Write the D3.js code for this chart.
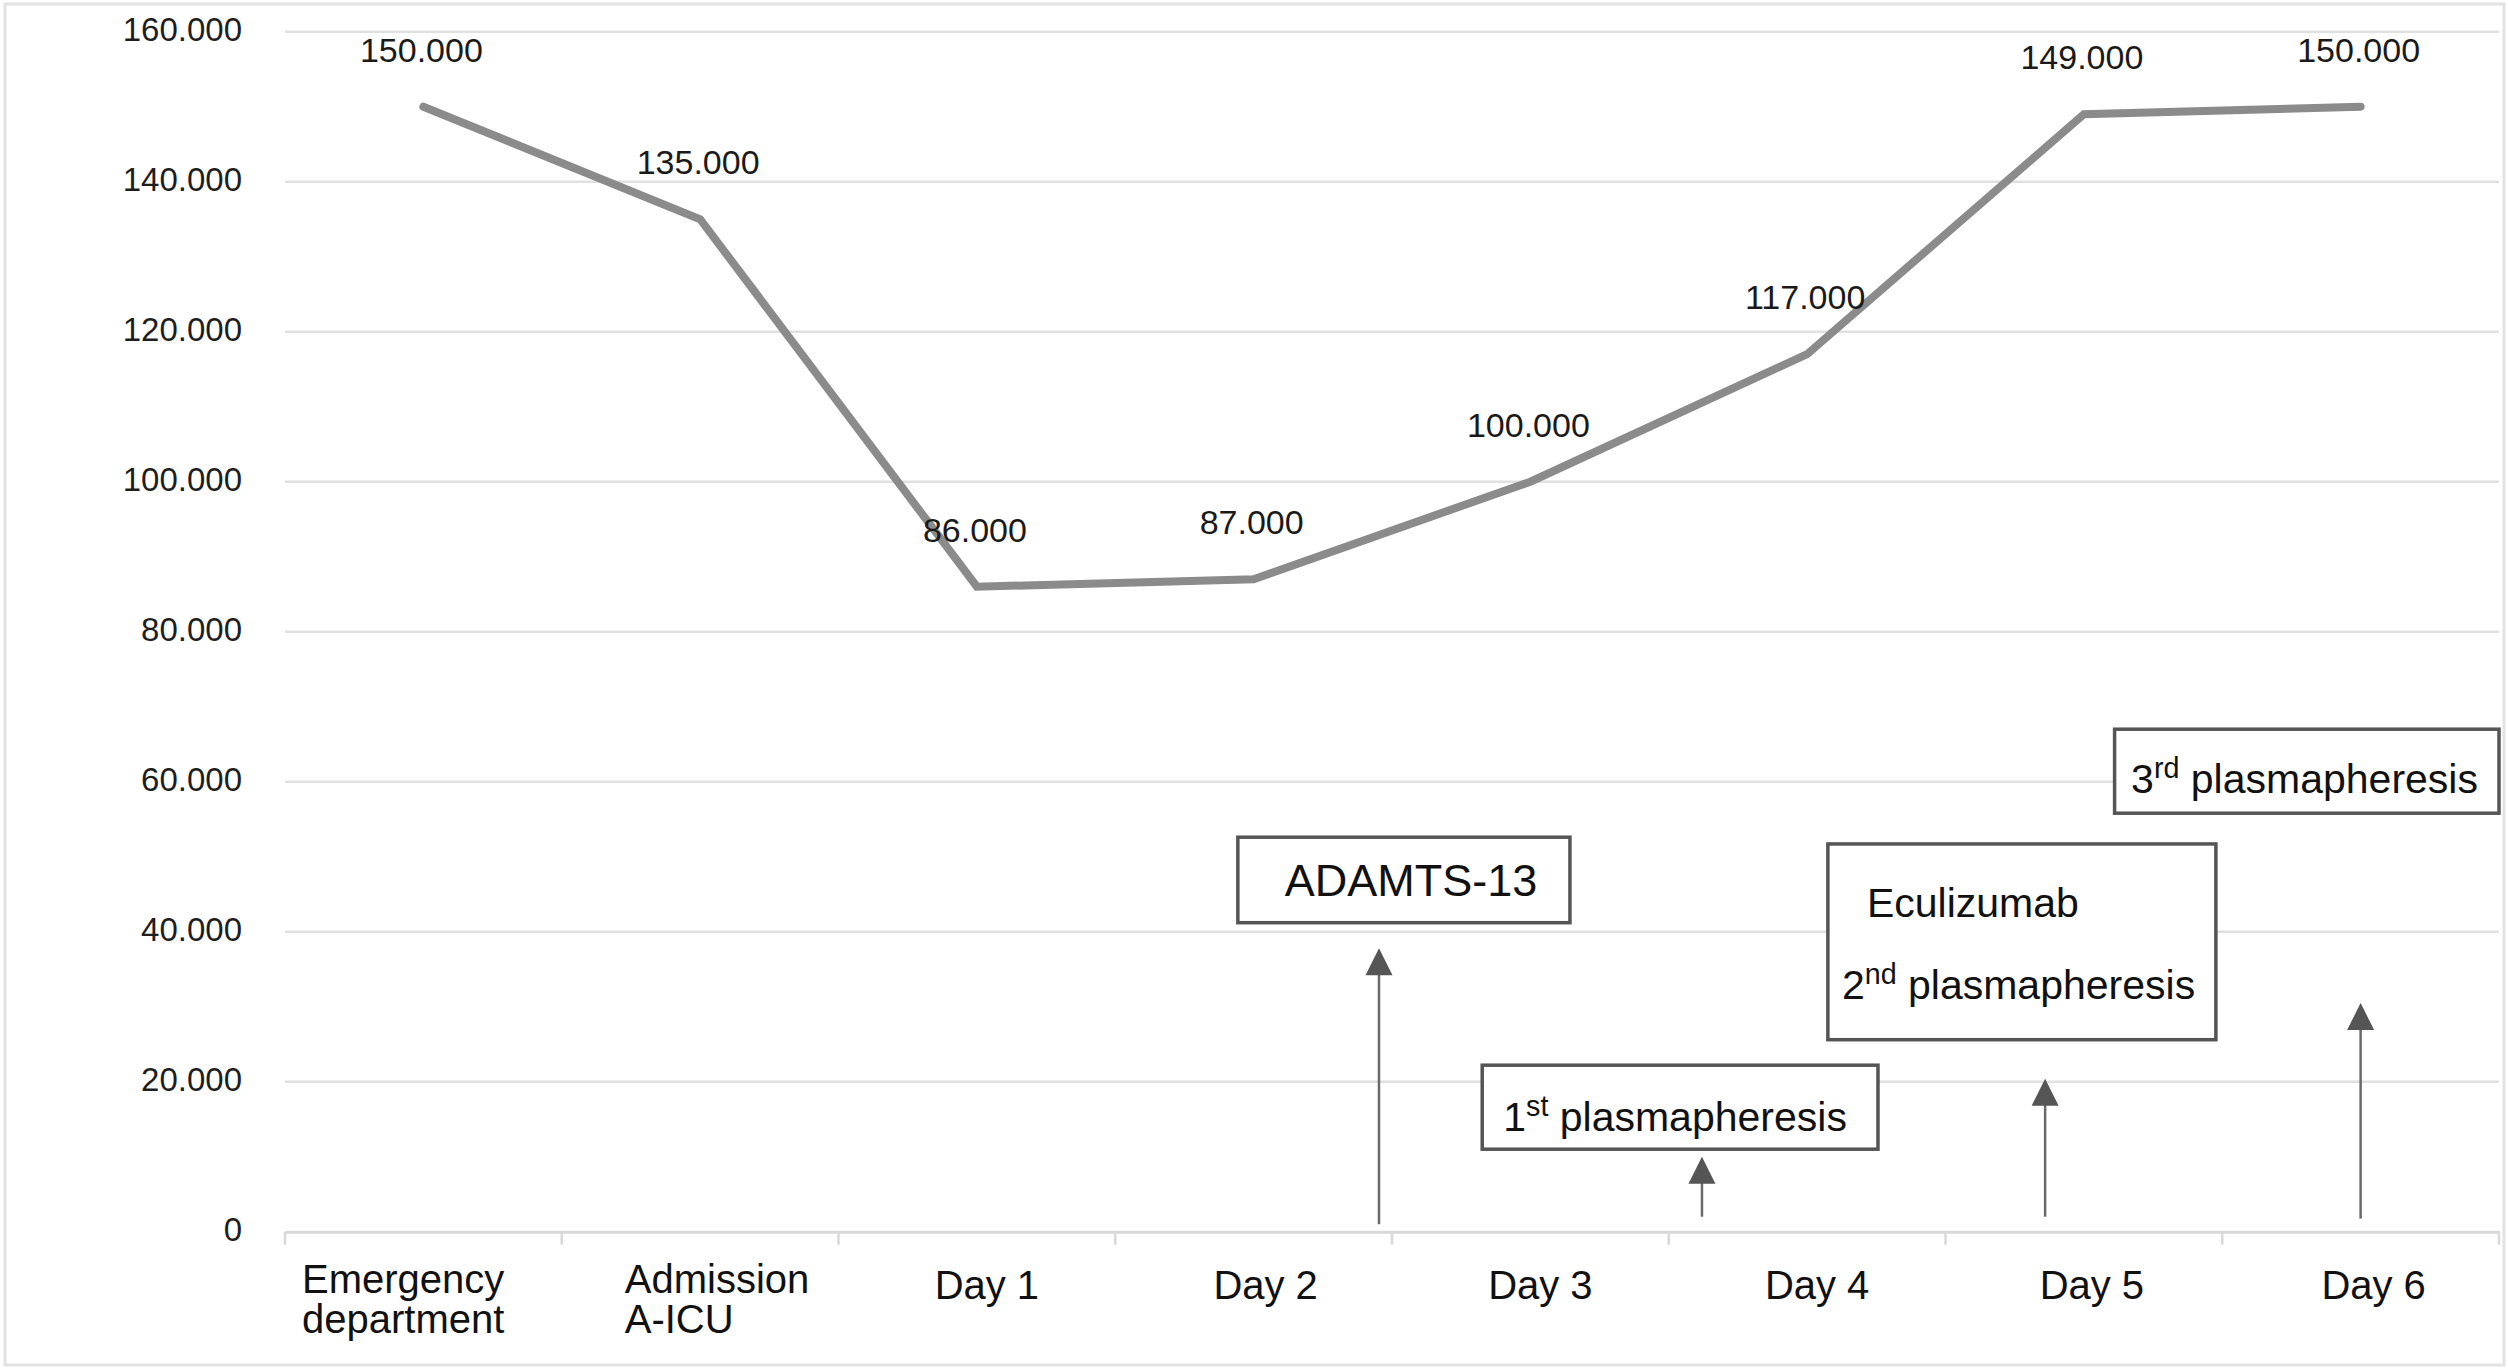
<!DOCTYPE html>
<html>
<head>
<meta charset="utf-8">
<script src="https://cdn.jsdelivr.net/npm/d3@7"></script>
<style>
  html, body { margin: 0; padding: 0; background: #fff; }
  svg { display: block; font-family: "Liberation Sans", Arial, Helvetica, sans-serif; }
</style>
</head>
<body>
<svg id="chart" width="2508" height="1372"></svg>
<script>
// ---------- data ----------
const categories = [
  ["Emergency", "department"],
  ["Admission", "A-ICU"],
  ["Day 1"], ["Day 2"], ["Day 3"], ["Day 4"], ["Day 5"], ["Day 6"]
];
const plateletValues = [150000, 135000, 86000, 87000, 100000, 117000, 149000, 150000];
const valueLabels = ["150.000", "135.000", "86.000", "87.000", "100.000", "117.000", "149.000", "150.000"];
const yTickValues = [0, 20000, 40000, 60000, 80000, 100000, 120000, 140000, 160000];
const yTickLabels = ["0", "20.000", "40.000", "60.000", "80.000", "100.000", "120.000", "140.000", "160.000"];

// annotation events (position along the category index, and value of arrow tip / base)
const arrowIndex = [3.453, 4.62, 5.86, 7.0];
const arrowTipValue = [37800, 10000, 20400, 30500];
const arrowBaseValue = [1000, 2000, 2000, 1750];

// annotation boxes: index range, value range
const boxIndexFrom = [2.943, 3.826, 5.075, 6.111];
const boxIndexTo = [4.143, 5.256, 6.477, 7.5];
const boxValueTop = [52600, 22200, 51700, 67000];
const boxValueBottom = [41200, 11000, 25600, 55800];
// box texts: [main, superscript, rest]
const boxTexts = [
  [["ADAMTS-13", "", ""]],
  [["1", "st", " plasmapheresis"]],
  [["Eculizumab", "", ""], ["2", "nd", " plasmapheresis"]],
  [["3", "rd", " plasmapheresis"]]
];

// ---------- layout ----------
const W = 2508, H = 1372;
const plotLeft = 285, plotRight = 2499, plotTop = 31.7, plotBottom = 1231.7;
const svg = d3.select("#chart");

// outer frame
svg.append("rect")
  .attr("x", 5).attr("y", 4).attr("width", 2499).attr("height", 1361)
  .attr("fill", "none").attr("stroke", "#e2e2e2").attr("stroke-width", 3);

const catKeys = categories.map(c => c.join(" "));
const x = d3.scaleBand().domain(catKeys).range([plotLeft, plotRight]).padding(0);
const y = d3.scaleLinear().domain([0, 160000]).range([plotBottom, plotTop]);
const xi = d3.scaleLinear().domain([0, 7])
  .range([x(catKeys[0]) + x.bandwidth() / 2, x(catKeys[7]) + x.bandwidth() / 2]);

// gridlines
svg.append("g")
  .selectAll("line").data(yTickValues.filter(v => v > 0)).join("line")
  .attr("x1", plotLeft).attr("x2", plotRight)
  .attr("y1", d => y(d)).attr("y2", d => y(d))
  .attr("stroke", "#e0e0e0").attr("stroke-width", 2.5);

// y axis labels
const yAxis = d3.axisLeft(y).tickValues(yTickValues)
  .tickFormat((d, i) => yTickLabels[i]).tickSize(0).tickPadding(0);
const gy = svg.append("g").attr("transform", `translate(${242},0)`).call(yAxis);
gy.select(".domain").remove();
gy.selectAll("text")
  .attr("font-size", 33).attr("fill", "#1e1e1e")
  .attr("font-family", "Liberation Sans, Arial, sans-serif")
  .attr("dy", null).attr("y", 8.5);

// x axis
const xAxis = d3.axisBottom(x).tickSize(0).tickFormat("");
const gx = svg.append("g").attr("transform", `translate(0,${plotBottom})`).call(xAxis);
gx.select(".domain").attr("stroke", "#d9d9d9").attr("stroke-width", 3);
gx.selectAll(".tick").remove();
// boundary ticks
const bounds = catKeys.map(k => x(k)).concat([plotRight]);
svg.append("g").selectAll("line").data(bounds).join("line")
  .attr("x1", d => d).attr("x2", d => d)
  .attr("y1", plotBottom).attr("y2", plotBottom + 13)
  .attr("stroke", "#d9d9d9").attr("stroke-width", 2.5);

// category labels
const labelShift = [-17, 20, 10, 12, 10, 10, 8, 13];
const twoLineLeftPad = [17, 63];
const catG = svg.append("g");
categories.forEach((lines, i) => {
  const t = catG.append("text")
    .attr("font-size", 40).attr("fill", "#111");
  if (lines.length === 1) {
    const cx = x(catKeys[i]) + x.bandwidth() / 2 + labelShift[i];
    t.attr("text-anchor", "middle");
    t.append("tspan").attr("x", cx).attr("y", plotBottom + 67).text(lines[0]);
  } else {
    t.attr("text-anchor", "start");
    lines.forEach((ln, j) => {
      t.append("tspan").attr("x", x(catKeys[i]) + twoLineLeftPad[i])
        .attr("y", plotBottom + 61 + j * 40).text(ln);
    });
  }
});

// data line
const line = d3.line()
  .x((d, i) => x(catKeys[i]) + x.bandwidth() / 2)
  .y(d => y(d));
svg.append("path")
  .datum(plateletValues)
  .attr("d", line)
  .attr("fill", "none")
  .attr("stroke", "#8b8b8b")
  .attr("stroke-width", 8)
  .attr("stroke-linejoin", "miter")
  .attr("stroke-linecap", "round");

// data labels
svg.append("g").selectAll("text").data(plateletValues).join("text")
  .attr("x", (d, i) => x(catKeys[i]) + x.bandwidth() / 2 - 2)
  .attr("y", d => y(d) - 45)
  .attr("text-anchor", "middle")
  .attr("font-size", 34).attr("fill", "#1a1a1a")
  .text((d, i) => valueLabels[i]);

// arrows
const arrowG = svg.append("g");
arrowIndex.forEach((ix, i) => {
  const ax = xi(ix), tip = y(arrowTipValue[i]), base = y(arrowBaseValue[i]);
  arrowG.append("line")
    .attr("x1", ax).attr("x2", ax).attr("y1", base).attr("y2", tip + 20)
    .attr("stroke", "#6a6a6a").attr("stroke-width", 2.5);
  arrowG.append("path")
    .attr("d", `M${ax},${tip} L${ax + 13.5},${tip + 27} L${ax - 13.5},${tip + 27} Z`)
    .attr("fill", "#555");
});

// boxes
const textOffsets = [
  [[47, 59]],
  [[21, 66]],
  [[39, 73], [14, 155]],
  [[16.5, 63.6]]
];
const boxFont = [45, 41, 41, 41];
const boxG = svg.append("g");
boxTexts.forEach((lines, i) => {
  const bx0 = xi(boxIndexFrom[i]), bx1 = xi(boxIndexTo[i]);
  const by0 = y(boxValueTop[i]), by1 = y(boxValueBottom[i]);
  boxG.append("rect")
    .attr("x", bx0).attr("y", by0).attr("width", bx1 - bx0).attr("height", by1 - by0)
    .attr("fill", "#fff").attr("stroke", "#555").attr("stroke-width", 3.5);
  lines.forEach((parts, j) => {
    const [ox, oy] = textOffsets[i][j];
    const fs = boxFont[i];
    const t = boxG.append("text")
      .attr("x", bx0 + ox).attr("y", by0 + oy)
      .attr("font-size", fs).attr("fill", "#111");
    t.append("tspan").text(parts[0]);
    if (parts[1]) {
      t.append("tspan").attr("font-size", fs * 0.7).attr("dy", -15).text(parts[1]);
      t.append("tspan").attr("dy", 15).text(parts[2]);
    }
  });
});
</script>
</body>
</html>
